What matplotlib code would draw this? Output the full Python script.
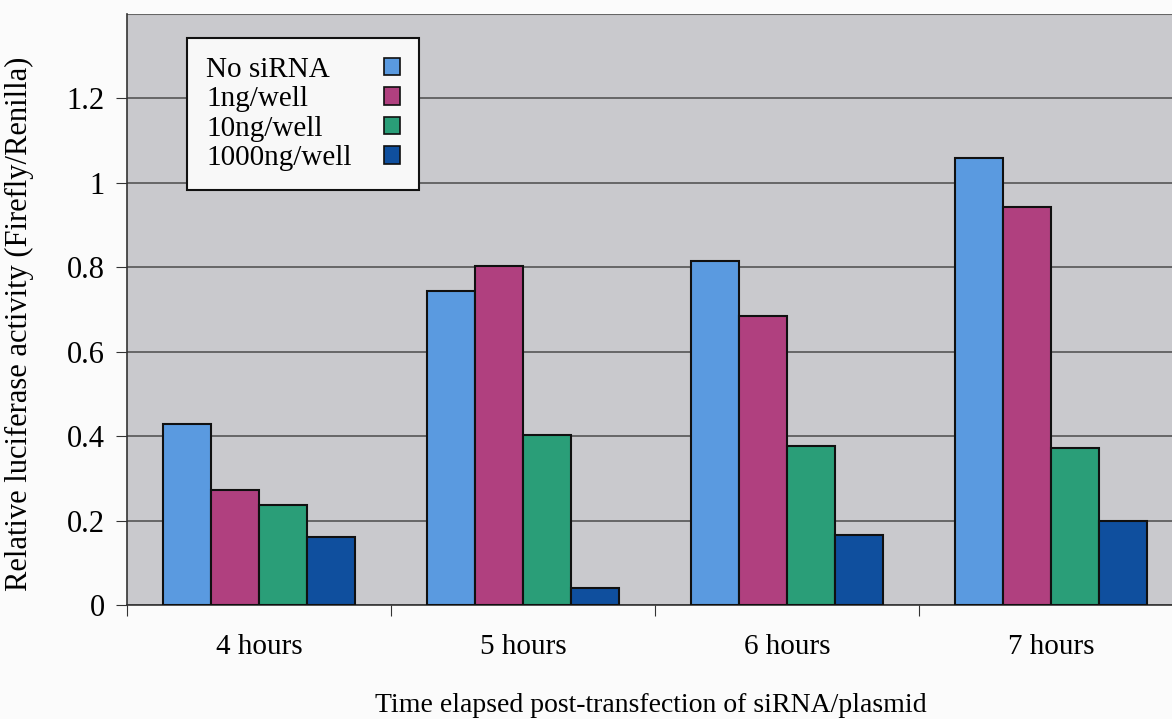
import numpy as np
import matplotlib.pyplot as plt

plt.rcParams['font.family'] = ['Liberation Serif', 'DejaVu Serif']

# data
categories = ['4 hours', '5 hours', '6 hours', '7 hours']
series = ['No siRNA', '1ng/well', '10ng/well', '1000ng/well']
no_sirna = [0.428, 0.745, 0.816, 1.060]
ng1 = [0.272, 0.802, 0.684, 0.942]
ng10 = [0.238, 0.403, 0.376, 0.371]
ng1000 = [0.162, 0.041, 0.165, 0.198]

colors = ['#5a9ae0', '#b0407f', '#2a9e78', '#0f4f9e']

fig = plt.figure(figsize=(11.72, 7.19), dpi=100)
fig.patch.set_facecolor('#fbfbfb')
# plot area runs slightly past the right edge, as in the scan
ax = fig.add_axes([127 / 1172, 114 / 719, 1056 / 1172, 591 / 719])
ax.set_facecolor('#c9c9cd')

x = np.arange(len(categories))
width = 0.182
for i, (vals, name) in enumerate(zip([no_sirna, ng1, ng10, ng1000], series)):
    ax.bar(x + (i - 1.5) * width, vals, width, color=colors[i], label=name,
           edgecolor='#101010', linewidth=1.5, zorder=3)

ax.set_xlim(-0.5, 3.5)
ax.set_ylim(0, 1.4)
ax.set_yticks([0, 0.2, 0.4, 0.6, 0.8, 1.0, 1.2])
ax.set_yticklabels(['0', '0.2', '0.4', '0.6', '0.8', '1', '1.2'])
ax.yaxis.grid(True, color='#555555', linewidth=1.2, zorder=0)
ax.axhline(1.4, color='#666666', linewidth=1.5, zorder=1)

ax.set_xticks(np.arange(-0.5, 4, 1.0), minor=False)
ax.set_xticklabels([])
ax.set_xticks(x, minor=True)
ax.set_xticklabels(categories, minor=True)
ax.tick_params(axis='x', which='major', direction='out', length=8, color='#333333')
ax.tick_params(axis='x', which='minor', length=0, pad=21, labelsize=21)
ax.tick_params(axis='y', direction='out', length=8, color='#333333', labelsize=22, pad=8)

for s in ['top', 'right']:
    ax.spines[s].set_visible(False)
ax.spines['left'].set_color('#333333')
ax.spines['bottom'].set_color('#333333')
ax.spines['left'].set_linewidth(1.2)
ax.spines['bottom'].set_linewidth(1.2)

ax.set_ylabel('Relative luciferase activity (Firefly/Renilla)', fontsize=22)
ax.yaxis.set_label_coords(-93 / 1056, 0.475)
ax.set_xlabel('Time elapsed post-transfection of siRNA/plasmid', fontsize=20)
ax.xaxis.set_label_coords(524 / 1056, -88 / 591)

leg = ax.legend(loc='upper left', bbox_to_anchor=(60 / 1056, 1 - 24 / 591),
                markerfirst=False, fontsize=21, frameon=True, fancybox=False,
                handlelength=0.55, handleheight=0.55, handletextpad=1.13,
                labelspacing=0.12, borderpad=0.65, borderaxespad=0)
leg.get_frame().set_edgecolor('#111111')
leg.get_frame().set_facecolor('#f8f8f8')
leg.get_frame().set_linewidth(1.5)
leg.get_frame().set_alpha(1)
for h in leg.legend_handles:
    h.set_linewidth(1.2)

# labels left-aligned with the colour squares in a column on the right
fig.canvas.draw()
r = fig.canvas.get_renderer()
widths = [t.get_window_extent(r).width for t in leg.get_texts()]
col = leg._legend_handle_box.get_children()[0]
for item, w in zip(col.get_children(), widths):
    item.sep = 1.13 * 21 + (max(widths) - w) * 72 / 100

fig.savefig('out.png', dpi=100, facecolor=fig.get_facecolor())
